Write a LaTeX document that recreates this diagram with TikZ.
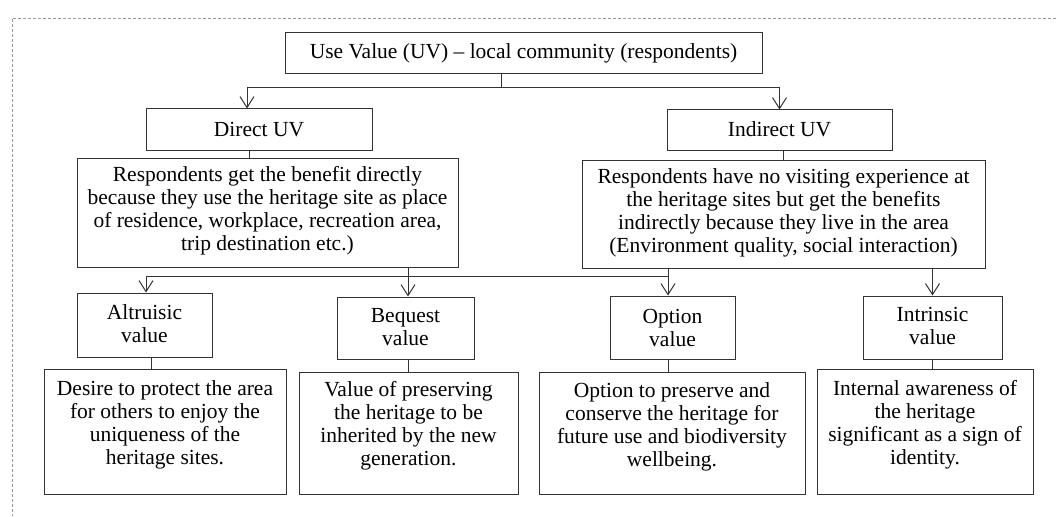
\documentclass[tikz,border=0pt]{standalone}
\usepackage{fontspec}
\setmainfont{Liberation Serif}
\usetikzlibrary{arrows.meta}
\newcommand\fs{\fontsize{21.5}{23}\selectfont}
\tikzset{
  box/.style={draw=black!80, line width=1pt, inner sep=0pt},
  txt/.style={align=center, font=\fs, inner sep=0pt},
  ln/.style={draw=black!80, line width=1pt},
  arr/.style={ln, -{Straight Barb[length=11pt,width=14pt]}},
  frame/.style={draw=black!40, line width=0.8pt, dash pattern=on 3pt off 2pt}
}
\begin{document}
\begin{tikzpicture}[x=1pt,y=-1pt]
\useasboundingbox (0,0) rectangle (1056,516);
\draw[frame] (1056,18) -- (12,18) -- (12,516);
% boxes
\node[box, minimum width=477pt, minimum height=41pt] (top) at (523.5,53.5) {};
\node[box, minimum width=226pt, minimum height=41pt] (duv) at (259,129.5) {};
\node[box, minimum width=225pt, minimum height=40pt] (iuv) at (779.5,130) {};
\node[box, minimum width=381pt, minimum height=109pt] (ddesc) at (267.5,212.5) {};
\node[box, minimum width=403pt, minimum height=108pt] (idesc) at (783.5,214) {};
\node[box, minimum width=135pt, minimum height=64pt] (alt) at (144.5,325) {};
\node[box, minimum width=137pt, minimum height=62pt] (beq) at (405.5,328) {};
\node[box, minimum width=125pt, minimum height=63pt] (opt) at (672.5,327.5) {};
\node[box, minimum width=139pt, minimum height=63pt] (int) at (932.5,327.5) {};
\node[box, minimum width=242pt, minimum height=125pt] (altd) at (165,431.5) {};
\node[box, minimum width=219pt, minimum height=122pt] (beqd) at (408.5,433) {};
\node[box, minimum width=266pt, minimum height=122pt] (optd) at (672,433) {};
\node[box, minimum width=216pt, minimum height=125pt] (intd) at (925,431.5) {};
% texts
\node[txt] (topt) at (523.5,53) {Use Value (UV) -- local community (respondents)};
\node[txt] (duvt) at (259,130) {Direct UV};
\node[txt] (iuvt) at (779.5,129) {Indirect UV};
\node[txt] (ddesct) at (267.5,211) {Respondents get the benefit directly\\because they use the heritage site as place\\of residence, workplace, recreation area,\\trip destination etc.)};
\node[txt] (idesct) at (783.5,212.5) {Respondents have no visiting experience at\\the heritage sites but get the benefits\\indirectly because they live in the area\\(Environment quality, social interaction)};
\node[txt] (altt) at (144.5,323.5) {Altruisic\\value};
\node[txt] (beqt) at (405.5,327) {Bequest\\value};
\node[txt] (optt) at (672.5,328) {Option\\value};
\node[txt] (intt) at (932.5,326) {Intrinsic\\value};
\node[txt] (altdt) at (165,425) {Desire to protect the area\\for others to enjoy the\\uniqueness of the\\heritage sites.};
\node[txt] (beqdt) at (408.5,425.5) {Value of preserving\\the heritage to be\\inherited by the new\\generation.};
\node[txt] (optdt) at (672,426.5) {Option to preserve and\\conserve the heritage for\\future use and biodiversity\\wellbeing.};
\node[txt] (intdt) at (925,424.5) {Internal awareness of\\the heritage\\significant as a sign of\\identity.};
% junction coordinates
\coordinate (j1) at (501,88);
\coordinate (h) at (408,276);
\coordinate (ox) at (668,276);
% connectors
\draw[ln] (j1 |- top.south) -- (j1);
\draw[arr] (j1) -| ([xshift=-12pt]duv.north);
\draw[arr] (j1) -| (iuv.north);
\draw[ln] ([xshift=-10pt]duv.south) -- ([xshift=-10pt]duv.south |- ddesc.north);
\draw[ln] (idesc.north |- iuv.south) -- (idesc.north);
\draw[ln] (h |- ddesc.south) -- (h);
\draw[arr] (h) -| ([xshift=1.5pt]alt.north);
\draw[arr] (h) -- (h |- beq.north);
\draw[ln] (h) -- (ox);
\draw[arr] (ox |- idesc.south) -- (ox |- opt.north);
\draw[arr] (idesc.south -| int.north) -- (int.north);
\draw[ln] ([xshift=6.5pt]alt.south) -- ([xshift=6.5pt]alt.south |- altd.north);
\draw[ln] (beqd.north |- beq.south) -- (beqd.north);
\draw[ln] (ox |- opt.south) -- (ox |- optd.north);
\draw[ln] (int.south) -- (int.south |- intd.north);
\end{tikzpicture}
\end{document}
